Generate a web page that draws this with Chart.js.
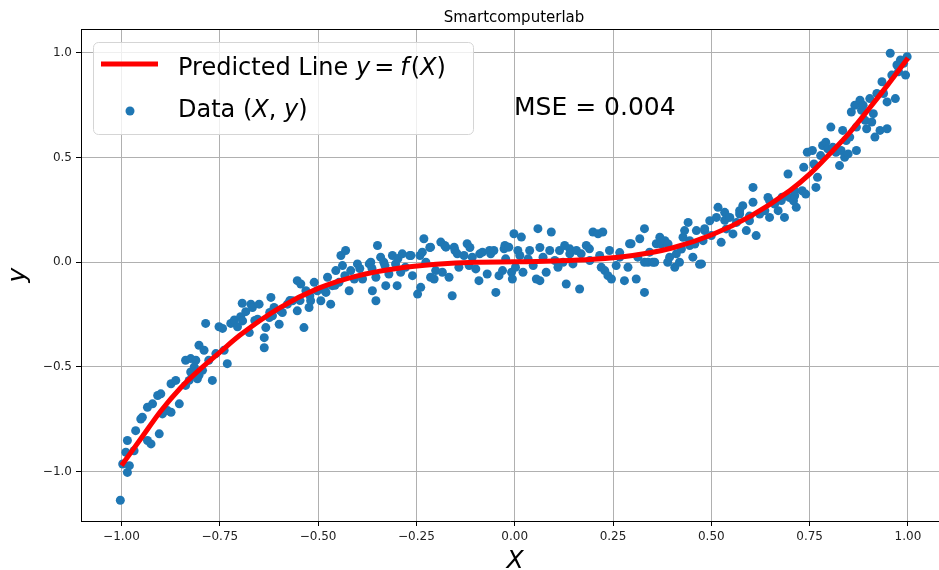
<!DOCTYPE html>
<html>
<head>
<meta charset="utf-8">
<script src="https://cdn.jsdelivr.net/npm/chart.js"></script>
<style>
	html, body { margin: 0; padding: 0; background: #fff; }
	#wrap { width: 939px; height: 570px; }
</style>
</head>
<body>
<div id="wrap"><canvas id="fitChart" width="939" height="570"></canvas></div>
<script>
// Data
const chartTitle = "Smartcomputerlab";
const mseText = "MSE = 0.004";

// scatter points (X, y)
const dataXY = [
	[-1.003, -1.136], [-0.997, -0.963], [-0.989, -0.907], [-0.985, -1.003], [-0.985, -0.851],
	[-0.980, -0.971], [-0.968, -0.900], [-0.964, -0.804], [-0.951, -0.748], [-0.947, -0.740],
	[-0.934, -0.851], [-0.934, -0.692], [-0.925, -0.867], [-0.921, -0.676], [-0.908, -0.636],
	[-0.904, -0.819], [-0.900, -0.628], [-0.896, -0.724], [-0.883, -0.708], [-0.874, -0.716],
	[-0.874, -0.580], [-0.862, -0.564], [-0.853, -0.676], [-0.837, -0.588], [-0.837, -0.468],
	[-0.828, -0.564], [-0.824, -0.524], [-0.824, -0.460], [-0.815, -0.500], [-0.811, -0.468],
	[-0.807, -0.556], [-0.803, -0.540], [-0.803, -0.396], [-0.794, -0.516], [-0.790, -0.420],
	[-0.786, -0.292], [-0.778, -0.468], [-0.769, -0.564], [-0.760, -0.436], [-0.752, -0.308],
	[-0.743, -0.316], [-0.739, -0.420], [-0.731, -0.484], [-0.722, -0.292], [-0.713, -0.276],
	[-0.705, -0.308], [-0.697, -0.260], [-0.693, -0.196], [-0.692, -0.280], [-0.684, -0.236],
	[-0.675, -0.336], [-0.671, -0.200], [-0.667, -0.216], [-0.661, -0.278], [-0.654, -0.272],
	[-0.650, -0.200], [-0.637, -0.360], [-0.637, -0.408], [-0.633, -0.312], [-0.624, -0.264],
	[-0.623, -0.240], [-0.620, -0.168], [-0.616, -0.256], [-0.612, -0.216], [-0.599, -0.296],
	[-0.597, -0.230], [-0.591, -0.240], [-0.578, -0.200], [-0.572, -0.183], [-0.565, -0.184],
	[-0.553, -0.232], [-0.553, -0.088], [-0.546, -0.183], [-0.544, -0.104], [-0.536, -0.312],
	[-0.531, -0.136], [-0.523, -0.216], [-0.521, -0.160], [-0.519, -0.184], [-0.510, -0.096],
	[-0.502, -0.136], [-0.493, -0.184], [-0.483, -0.135], [-0.480, -0.144], [-0.476, -0.072],
	[-0.468, -0.200], [-0.464, -0.112], [-0.457, -0.110], [-0.455, -0.040], [-0.447, -0.096],
	[-0.442, 0.032], [-0.438, -0.016], [-0.432, -0.064], [-0.430, 0.056], [-0.421, -0.136],
	[-0.417, -0.040], [-0.408, -0.080], [-0.400, -0.008], [-0.394, -0.030], [-0.387, -0.080],
	[-0.370, -0.008], [-0.366, 0.000], [-0.363, -0.030], [-0.362, -0.136], [-0.353, -0.184],
	[-0.353, -0.072], [-0.349, 0.080], [-0.341, 0.024], [-0.333, 0.000], [-0.330, -0.016],
	[-0.328, -0.112], [-0.320, -0.056], [-0.311, 0.032], [-0.303, -0.008], [-0.299, -0.112],
	[-0.297, 0.018], [-0.290, -0.048], [-0.286, 0.040], [-0.278, -0.024], [-0.267, 0.032],
	[-0.264, 0.032], [-0.260, -0.064], [-0.247, -0.152], [-0.241, 0.032], [-0.239, -0.120],
	[-0.235, 0.048], [-0.231, 0.112], [-0.226, 0.000], [-0.216, 0.070], [-0.214, 0.072],
	[-0.214, -0.072], [-0.205, -0.080], [-0.201, -0.040], [-0.188, 0.096], [-0.184, -0.048],
	[-0.178, 0.080], [-0.175, 0.072], [-0.167, -0.072], [-0.159, -0.160], [-0.154, 0.072],
	[-0.152, 0.056], [-0.146, 0.040], [-0.142, -0.024], [-0.129, 0.032], [-0.121, 0.088],
	[-0.116, -0.016], [-0.114, 0.070], [-0.108, 0.024], [-0.099, -0.032], [-0.091, -0.088],
	[-0.089, 0.040], [-0.082, 0.048], [-0.070, -0.056], [-0.064, 0.056], [-0.061, 0.040],
	[-0.053, 0.056], [-0.048, -0.144], [-0.040, -0.064], [-0.031, -0.040], [-0.027, 0.064],
	[-0.025, 0.080], [-0.023, 0.016], [-0.015, 0.072], [-0.008, -0.048], [-0.006, -0.080],
	[-0.002, 0.136], [0.002, -0.024], [0.008, 0.056], [0.013, 0.032], [0.017, 0.120],
	[0.021, -0.048], [0.034, 0.016], [0.038, 0.056], [0.047, -0.016], [0.055, -0.080],
	[0.059, 0.160], [0.064, -0.088], [0.064, 0.070], [0.072, 0.024], [0.080, -0.048],
	[0.089, 0.056], [0.093, 0.144], [0.102, 0.008], [0.110, -0.024], [0.114, 0.056],
	[0.123, 0.000], [0.127, 0.080], [0.131, -0.104], [0.140, 0.064], [0.140, 0.040],
	[0.148, -0.008], [0.157, 0.056], [0.165, -0.128], [0.169, 0.040], [0.182, 0.080],
	[0.190, 0.064], [0.191, 0.008], [0.199, 0.144], [0.212, 0.136], [0.216, 0.032],
	[0.220, -0.024], [0.224, 0.144], [0.229, -0.040], [0.237, -0.064], [0.241, 0.056],
	[0.246, -0.080], [0.258, -0.016], [0.267, 0.024], [0.267, 0.046], [0.279, -0.088],
	[0.288, -0.024], [0.292, 0.088], [0.296, 0.088], [0.309, -0.080], [0.313, 0.024],
	[0.318, 0.112], [0.330, 0.160], [0.330, -0.144], [0.330, 0.000], [0.339, 0.000],
	[0.343, 0.048], [0.351, 0.000], [0.356, 0.000], [0.360, 0.088], [0.369, 0.119],
	[0.373, 0.087], [0.382, 0.103], [0.389, 0.000], [0.390, 0.087], [0.394, 0.024],
	[0.407, -0.024], [0.411, 0.040], [0.419, 0.000], [0.424, 0.063], [0.428, 0.119],
	[0.432, 0.151], [0.441, 0.190], [0.445, 0.103], [0.445, 0.080], [0.453, 0.024],
	[0.458, 0.087], [0.462, 0.151], [0.470, -0.010], [0.475, -0.008], [0.479, 0.103],
	[0.483, 0.151], [0.483, 0.160], [0.496, 0.198], [0.500, 0.127], [0.513, 0.214],
	[0.517, 0.262], [0.525, 0.095], [0.534, 0.238], [0.534, 0.200], [0.538, 0.159],
	[0.547, 0.214], [0.555, 0.135], [0.564, 0.190], [0.572, 0.246], [0.572, 0.230],
	[0.580, 0.270], [0.589, 0.151], [0.597, 0.198], [0.597, 0.220], [0.606, 0.286],
	[0.606, 0.357], [0.614, 0.127], [0.623, 0.230], [0.636, 0.246], [0.644, 0.309],
	[0.648, 0.214], [0.648, 0.294], [0.661, 0.278], [0.670, 0.246], [0.678, 0.294],
	[0.680, 0.310], [0.686, 0.214], [0.695, 0.421], [0.699, 0.309], [0.709, 0.293],
	[0.712, 0.317], [0.712, 0.340], [0.716, 0.262], [0.731, 0.341], [0.735, 0.453],
	[0.740, 0.325], [0.744, 0.525], [0.757, 0.533], [0.761, 0.469], [0.766, 0.357],
	[0.770, 0.405], [0.778, 0.509], [0.783, 0.557], [0.791, 0.573], [0.796, 0.541],
	[0.804, 0.645], [0.809, 0.549], [0.817, 0.525], [0.826, 0.461], [0.830, 0.533],
	[0.834, 0.629], [0.839, 0.501], [0.843, 0.581], [0.848, 0.517], [0.852, 0.597],
	[0.856, 0.717], [0.865, 0.749], [0.869, 0.533], [0.869, 0.645], [0.878, 0.773],
	[0.882, 0.725], [0.886, 0.749], [0.891, 0.677], [0.895, 0.637], [0.903, 0.781],
	[0.908, 0.669], [0.912, 0.709], [0.916, 0.597], [0.921, 0.805], [0.929, 0.629],
	[0.934, 0.861], [0.938, 0.805], [0.947, 0.637], [0.947, 0.765], [0.955, 0.997],
	[0.959, 0.893], [0.968, 0.781], [0.972, 0.941], [0.976, 0.909], [0.981, 0.965],
	[0.989, 0.949], [0.994, 0.893], [0.998, 0.981],
];

// predicted line y = f(X), sampled off the red curve
const fitX = [-1, -0.95, -0.9, -0.85, -0.8, -0.75, -0.7, -0.6, -0.5, -0.4, -0.3, -0.2, -0.1, 0,
	0.1, 0.2, 0.3, 0.4, 0.5, 0.6, 0.7, 0.75, 0.8, 0.85, 0.9, 0.95, 1];
const fitY = [-0.97, -0.84, -0.71, -0.6, -0.51, -0.43, -0.35, -0.22, -0.125, -0.065, -0.03, -0.01, 0, 0.002,
	0.006, 0.014, 0.032, 0.068, 0.13, 0.22, 0.342, 0.42, 0.515, 0.615, 0.73, 0.85, 0.975];

// axes
const xTicks = [-1, -0.75, -0.5, -0.25, 0, 0.25, 0.5, 0.75, 1];
const xTickLabels = ["\u22121.00", "\u22120.75", "\u22120.50", "\u22120.25", "0.00", "0.25", "0.50", "0.75", "1.00"];
const yTicks = [-1, -0.5, 0, 0.5, 1];
const yTickLabels = ["\u22121.0", "\u22120.5", "0.0", "0.5", "1.0"];

const FONT = "'DejaVu Sans', 'Liberation Sans', sans-serif";

// draw a run of text pieces, [text, italic, gap after] one after another
function drawPieces(ctx, pieces, x, y, size) {
	let cx = x;
	pieces.forEach(function (p) {
		ctx.font = (p[1] ? "italic " : "") + size + "px " + FONT;
		ctx.fillText(p[0], cx, y);
		cx += ctx.measureText(p[0]).width + (p[2] || 0);
	});
}

// title, axis labels, legend box, MSE text and top spine
const decorPlugin = {
	id: "decor",
	afterDraw: function (chart) {
		const ctx = chart.ctx;
		const area = chart.chartArea;
		ctx.save();

		// top spine
		ctx.strokeStyle = "#000";
		ctx.lineWidth = 1;
		ctx.beginPath();
		ctx.moveTo(area.left, area.top + 0.5);
		ctx.lineTo(area.right, area.top + 0.5);
		ctx.stroke();

		ctx.fillStyle = "#000";
		ctx.textBaseline = "alphabetic";

		// title
		ctx.font = "15px " + FONT;
		ctx.textAlign = "center";
		ctx.fillText(chartTitle, 514, 22);

		// x label
		ctx.font = "italic 25px " + FONT;
		ctx.fillText("X", 515, 568);

		// y label
		ctx.save();
		ctx.translate(25, 275);
		ctx.rotate(-Math.PI / 2);
		ctx.fillText("y", 0, 0);
		ctx.restore();

		// MSE
		ctx.textAlign = "left";
		ctx.font = "25px " + FONT;
		ctx.fillText(mseText, 514, 115);

		// legend frame
		ctx.beginPath();
		ctx.roundRect(93.5, 42.5, 380, 92, 5);
		ctx.fillStyle = "rgba(255,255,255,0.8)";
		ctx.fill();
		ctx.strokeStyle = "#d5d5d5";
		ctx.stroke();

		// legend entry: line
		ctx.strokeStyle = "#ff0000";
		ctx.lineWidth = 5;
		ctx.beginPath();
		ctx.moveTo(101, 64);
		ctx.lineTo(158, 64);
		ctx.stroke();

		// legend entry: dot
		ctx.fillStyle = "#1f77b4";
		ctx.beginPath();
		ctx.arc(130, 111, 4.5, 0, Math.PI * 2);
		ctx.fill();

		ctx.fillStyle = "#000";
		drawPieces(ctx, [["Predicted Line ", false], ["y", true, 4], ["=", false, 6], ["f", true, 2], ["(", false], ["X", true], [")", false]], 178, 75, 24);
		drawPieces(ctx, [["Data ", false], ["(", false], ["X", true], [", ", false], ["y", true], [")", false]], 178, 117, 24);

		ctx.restore();
	},
};

function initFitChart() {
	const canvas = document.getElementById("fitChart");
	if (!canvas) {
		console.warn("Chart canvas not found");
		return;
	}

	const points = dataXY.map((p) => ({ x: p[0], y: p[1] }));
	const fitLine = fitX.map((x, i) => ({ x: x, y: fitY[i] }));

	new Chart(canvas.getContext("2d"), {
		type: "scatter",
		data: {
			datasets: [
				{
					type: "line",
					label: "Predicted Line",
					data: fitLine,
					borderColor: "#ff0000",
					borderWidth: 5,
					pointRadius: 0,
					fill: false,
					cubicInterpolationMode: "monotone",
					order: 0,
				},
				{
					label: "Data",
					data: points,
					backgroundColor: "#1f77b4",
					borderWidth: 0,
					pointRadius: 4.5,
					pointHoverRadius: 4.5,
					order: 1,
				},
			],
		},
		options: {
			responsive: false,
			animation: false,
			devicePixelRatio: 1,
			plugins: {
				legend: { display: false },
				tooltip: { enabled: false },
				title: { display: false },
			},
			layout: {
				autoPadding: false,
				padding: { top: 29, right: 0, left: 0, bottom: 0 },
			},
			scales: {
				x: {
					type: "linear",
					min: -1.103,
					max: 1.079,
					afterBuildTicks: function (scale) {
						scale.ticks = xTicks.map((v) => ({ value: v }));
					},
					afterFit: function (scale) {
						scale.height = 49;
						scale.paddingLeft = 0;
						scale.paddingRight = 0;
					},
					ticks: {
						autoSkip: false,
						maxRotation: 0,
						padding: 4,
						color: "#222",
						font: { family: FONT, size: 12 },
						callback: function (value) {
							return xTickLabels[xTicks.indexOf(value)];
						},
					},
					grid: {
						color: "#b0b0b0",
						lineWidth: 1,
						tickColor: "#000",
						tickLength: 5,
					},
					border: { color: "#000", width: 1 },
				},
				y: {
					type: "linear",
					min: -1.235,
					max: 1.113,
					afterBuildTicks: function (scale) {
						scale.ticks = yTicks.map((v) => ({ value: v }));
					},
					afterFit: function (scale) {
						scale.width = 81;
						scale.paddingTop = 0;
						scale.paddingBottom = 0;
					},
					ticks: {
						autoSkip: false,
						padding: 4,
						color: "#222",
						font: { family: FONT, size: 12 },
						callback: function (value) {
							return yTickLabels[yTicks.indexOf(value)];
						},
					},
					grid: {
						color: "#b0b0b0",
						lineWidth: 1,
						tickColor: "#000",
						tickLength: 5,
					},
					border: { color: "#000", width: 1 },
				},
			},
		},
		plugins: [decorPlugin],
	});
}

document.addEventListener("DOMContentLoaded", function () {
	if (typeof Chart === "undefined") {
		console.error("Chart.js library not loaded");
		return;
	}
	initFitChart();
});
</script>
</body>
</html>
